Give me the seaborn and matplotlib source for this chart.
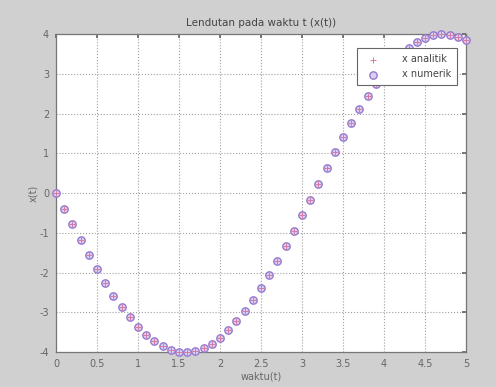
import matplotlib
matplotlib.use("Agg")
import matplotlib.pyplot as plt
import seaborn as sns
import pandas as pd

# Data
waktu = [0.0, 0.1, 0.2, 0.3, 0.4, 0.5, 0.6, 0.7, 0.8, 0.9,
         1.0, 1.1, 1.2, 1.3, 1.4, 1.5, 1.6, 1.7, 1.8, 1.9,
         2.0, 2.1, 2.2, 2.3, 2.4, 2.5, 2.6, 2.7, 2.8, 2.9,
         3.0, 3.1, 3.2, 3.3, 3.4, 3.5, 3.6, 3.7, 3.8, 3.9,
         4.0, 4.1, 4.2, 4.3, 4.4, 4.5, 4.6, 4.7, 4.8, 4.9, 5.0]
x_analitik = [0.00, -0.40, -0.79, -1.18, -1.56, -1.92, -2.26, -2.58, -2.87, -3.13,
              -3.37, -3.56, -3.73, -3.85, -3.94, -3.99, -4.00, -3.97, -3.90, -3.79,
              -3.64, -3.45, -3.23, -2.98, -2.70, -2.39, -2.06, -1.71, -1.34, -0.96,
              -0.56, -0.17, 0.23, 0.63, 1.02, 1.40, 1.77, 2.12, 2.45, 2.75,
              3.03, 3.27, 3.49, 3.66, 3.81, 3.91, 3.97, 4.00, 3.98, 3.93, 3.84]
x_numerik = [0.00, -0.40, -0.79, -1.18, -1.56, -1.92, -2.26, -2.58, -2.87, -3.13,
             -3.37, -3.56, -3.73, -3.85, -3.94, -3.99, -4.00, -3.97, -3.90, -3.79,
             -3.64, -3.45, -3.23, -2.98, -2.70, -2.39, -2.06, -1.71, -1.34, -0.96,
             -0.56, -0.17, 0.23, 0.63, 1.02, 1.40, 1.77, 2.12, 2.45, 2.75,
             3.03, 3.27, 3.49, 3.66, 3.81, 3.91, 3.97, 4.00, 3.98, 3.93, 3.84]
x_ticks = [0, 0.5, 1, 1.5, 2, 2.5, 3, 3.5, 4, 4.5, 5]
x_ticklabels = ["0", "0.5", "1", "1.5", "2", "2.5", "3", "3.5", "4", "4.5", "5"]
y_ticks = [-4, -3, -2, -1, 0, 1, 2, 3, 4]
title = "Lendutan pada waktu t (x(t))"
xlabel = "waktu(t)"
ylabel = "x(t)"
labels = ["x analitik", "x numerik"]

sns.set_theme(style="white")
plt.rcParams["font.family"] = ["DejaVu Sans"]
plt.rcParams["axes.unicode_minus"] = False

df_a = pd.DataFrame({"t": waktu, "x": x_analitik})
df_n = pd.DataFrame({"t": waktu, "x": x_numerik})

fig = plt.figure(figsize=(4.96, 3.87), dpi=100, facecolor="#d0d0d0")
ax = fig.add_axes([0.113, 0.0904, 0.8266, 0.8216])
ax.set_facecolor("white")

sns.scatterplot(data=df_n, x="t", y="x", ax=ax, marker="o", s=28,
                facecolor="#dcd0f2", edgecolor="#9479cf", linewidth=1.0,
                label=labels[1], zorder=3, clip_on=False)
sns.scatterplot(data=df_a, x="t", y="x", ax=ax, marker="+", s=18,
                color="#d87aa0", linewidth=0.7,
                label=labels[0], zorder=4, clip_on=False)

ax.set_xlim(0, 5)
ax.set_ylim(-4, 4)
ax.set_xticks(x_ticks)
ax.set_xticklabels(x_ticklabels)
ax.set_yticks(y_ticks)
ax.tick_params(axis="both", labelsize=7, colors="#666666", length=3,
               direction="in", top=True, right=True)
ax.tick_params(axis="x", pad=5)
ax.tick_params(axis="y", pad=5)
ax.grid(True, linestyle=":", color="#a0a0a0", linewidth=0.8)
for sp in ax.spines.values():
    sp.set_color("#777777")
    sp.set_linewidth(0.9)

ax.set_title(title, fontsize=7.5, color="#444444", pad=6)
ax.set_xlabel(xlabel, fontsize=7, color="#666666", labelpad=2)
ax.set_ylabel(ylabel, fontsize=7, color="#666666", labelpad=1)

handles, lbls = ax.get_legend_handles_labels()
order = [lbls.index(labels[0]), lbls.index(labels[1])]
leg = ax.legend([handles[i] for i in order], [lbls[i] for i in order],
                loc="upper right", fontsize=7, frameon=True, fancybox=False,
                framealpha=1.0, facecolor="white",
                edgecolor="#666666", borderpad=0.6, handletextpad=2.0,
                labelspacing=0.5, bbox_to_anchor=(0.99, 0.97))
leg.get_frame().set_linewidth(0.8)
leg.set_zorder(10)
for t in leg.get_texts():
    t.set_color("#444444")

fig.savefig("out.png", dpi=100, facecolor=fig.get_facecolor())
